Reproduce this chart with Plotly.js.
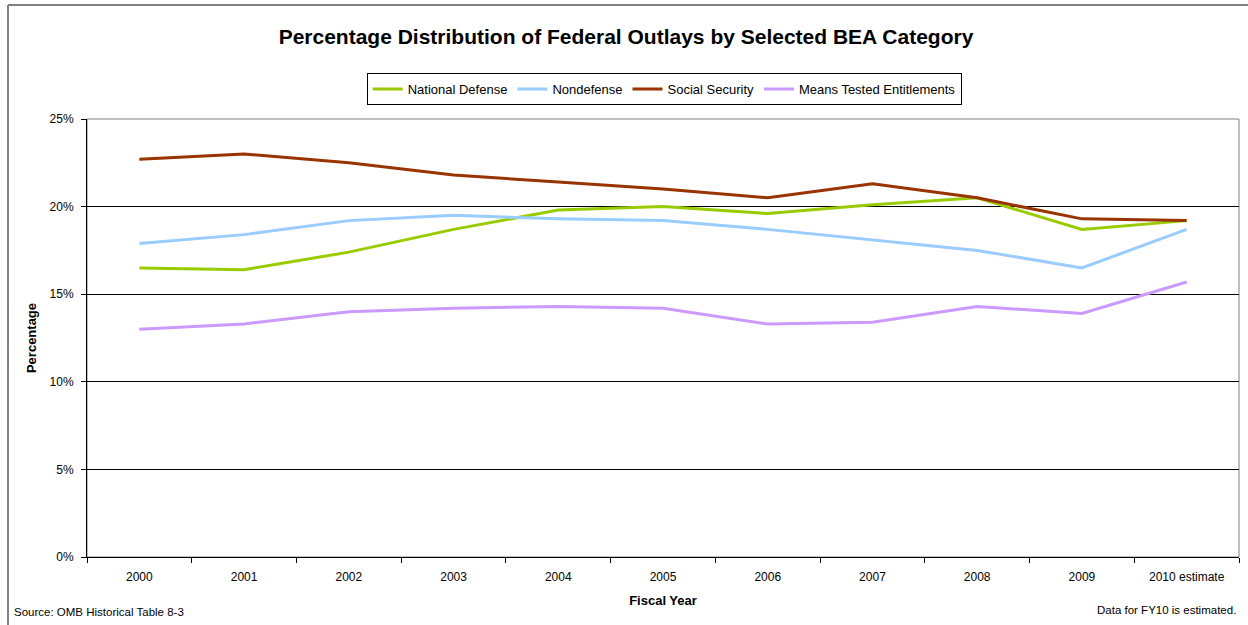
<!DOCTYPE html>
<html>
<head>
<meta charset="utf-8">
<script src="https://cdn.plot.ly/plotly-3.0.1.min.js"></script>
<style>
html,body{margin:0;padding:0;background:#fff;}
#chart{width:1248px;height:625px;}
</style>
</head>
<body>
<div id="chart"></div>
<script>
const years = ["2000","2001","2002","2003","2004","2005","2006","2007","2008","2009","2010 estimate"];
const nationalDefense = [16.5, 16.4, 17.4, 18.7, 19.8, 20.0, 19.6, 20.1, 20.5, 18.7, 19.2];
const nondefense = [17.9, 18.4, 19.2, 19.5, 19.3, 19.2, 18.7, 18.1, 17.5, 16.5, 18.7];
const socialSecurity = [22.7, 23.0, 22.5, 21.8, 21.4, 21.0, 20.5, 21.3, 20.5, 19.3, 19.2];
const meansTested = [13.0, 13.3, 14.0, 14.2, 14.3, 14.2, 13.3, 13.4, 14.3, 13.9, 15.7];

const seriesNames = ["National Defense","Nondefense","Social Security","Means Tested Entitlements"];
const seriesData = [nationalDefense, nondefense, socialSecurity, meansTested];
const seriesColors = ["#99CC00","#99CCFF","#993300","#CC99FF"];

const traces = seriesData.map((vals, i) => ({
  type: "scatter",
  mode: "lines",
  name: seriesNames[i],
  x: years,
  y: vals.map(v => v / 100),
  line: {color: seriesColors[i], width: 3},
  hoverinfo: "skip"
}));

const font = "Arial, 'Liberation Sans', sans-serif";

const layout = {
  width: 1248,
  height: 625,
  paper_bgcolor: "#fff",
  plot_bgcolor: "#fff",
  margin: {l: 87, r: 9, t: 119, b: 68, pad: 0},
  font: {family: font, color: "#000", size: 12},
  title: {
    text: "<b>Percentage Distribution of Federal Outlays by Selected BEA Category</b>",
    font: {family: font, size: 21, color: "#000"},
    x: 0.5016, xref: "container", xanchor: "center",
    y: 0.941, yref: "container", yanchor: "middle"
  },
  showlegend: true,
  legend: {
    orientation: "h",
    x: 0.501, xanchor: "center",
    y: 1.105, yanchor: "top",
    bordercolor: "#000", borderwidth: 1,
    bgcolor: "#fff",
    font: {family: font, size: 13, color: "#000"},
    itemwidth: 30,
    tracegroupgap: 0
  },
  xaxis: {
    type: "category",
    range: [-0.5, 10.5],
    showgrid: false,
    showline: true, linecolor: "#000", linewidth: 1,
    ticks: "outside", ticklen: 5, tickcolor: "#000", tickson: "boundaries",
    ticklabelstandoff: 9,
    tickfont: {family: font, size: 12, color: "#000"},
    title: {text: "<b>Fiscal Year</b>", font: {family: font, size: 13, color: "#000"}, standoff: 12},
    zeroline: false,
    fixedrange: true
  },
  yaxis: {
    range: [0, 0.25],
    tickvals: [0, 0.05, 0.10, 0.15, 0.20, 0.25],
    ticktext: ["0%","5%","10%","15%","20%","25%"],
    showgrid: true, gridcolor: "#000", gridwidth: 1,
    showline: true, linecolor: "#000", linewidth: 1,
    ticks: "outside", ticklen: 5, tickcolor: "#000",
    ticklabelstandoff: 5,
    tickfont: {family: font, size: 12, color: "#000"},
    title: {text: "<b>Percentage</b>", font: {family: font, size: 13, color: "#000"}, standoff: 10},
    zeroline: false,
    fixedrange: true
  },
  shapes: [
    {type: "rect", xref: "paper", yref: "paper", x0: 0, x1: 1, y0: 0, y1: 1,
     line: {color: "#808080", width: 1}, layer: "below"},
    {type: "line", xref: "paper", yref: "paper", x0: (8 - 87) / 1152, x1: (1260 - 87) / 1152,
     y0: (557 - 5) / 438, y1: (557 - 5) / 438, line: {color: "#808080", width: 2}},
    {type: "line", xref: "paper", yref: "paper", x0: (8 - 87) / 1152, x1: (8 - 87) / 1152,
     y0: (557 - 5) / 438, y1: (557 - 640) / 438, line: {color: "#808080", width: 2}}
  ],
  annotations: [
    {text: "Source: OMB Historical Table 8-3", xref: "paper", yref: "paper",
     x: (12 - 87) / 1152, xanchor: "left", y: (557 - 612) / 438, yanchor: "middle",
     showarrow: false, font: {family: font, size: 11.5, color: "#000"}},
    {text: "Data for FY10 is estimated.", xref: "paper", yref: "paper",
     x: (1238 - 87) / 1152, xanchor: "right", y: (557 - 610) / 438, yanchor: "middle",
     showarrow: false, font: {family: font, size: 11.5, color: "#000"}}
  ]
};

Plotly.newPlot("chart", traces, layout, {displayModeBar: false, staticPlot: true});
</script>
</body>
</html>
